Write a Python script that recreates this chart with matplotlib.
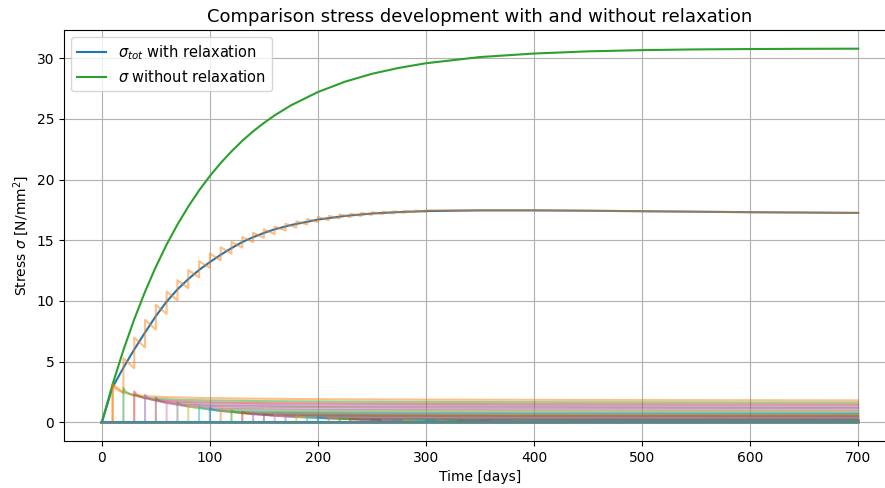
import numpy as np
import matplotlib
matplotlib.use('Agg')
from matplotlib import pyplot as plt

# smooth curves
curve_days = [0, 10, 20, 30, 40, 50, 60, 70, 80, 90, 100, 110, 120, 130, 140, 150,
              160, 175, 200, 225, 250, 275, 300, 350, 400, 450, 500, 550, 600, 650, 700]
sigma_no_relax = [0, 3.14, 5.96, 8.49, 10.76, 12.81, 14.65, 16.29, 17.77, 19.10, 20.29,
                  21.36, 22.32, 23.19, 23.97, 24.66, 25.29, 26.11, 27.21, 28.06, 28.71,
                  29.20, 29.58, 30.09, 30.38, 30.56, 30.66, 30.72, 30.75, 30.77, 30.78]
sigma_tot = [0, 2.9, 4.5, 6.0, 7.4, 8.75, 9.95, 10.95, 11.8, 12.55, 13.2,
             13.8, 14.35, 14.85, 15.25, 15.6, 15.9, 16.25, 16.7, 17.0, 17.2,
             17.32, 17.4, 17.46, 17.46, 17.43, 17.39, 17.35, 17.31, 17.28, 17.25]

# sawtooth (stress just before / after each load step)
saw_days = [10, 20, 30, 40, 50, 60, 70, 80, 90, 100, 110, 120, 130, 140, 150,
            160, 170, 180, 190, 200, 210, 220, 230, 240, 250, 260, 270, 280, 290, 300]
saw_low = [0.0, 2.45, 4.46, 6.17, 7.64, 8.93, 10.06, 11.06, 11.94, 12.72, 13.35, 13.9,
           14.4, 14.85, 15.2, 15.5, 15.8, 16.05, 16.3, 16.5, 16.65, 16.8, 16.9, 17.0,
           17.08, 17.15, 17.2, 17.25, 17.3, 17.33]
saw_high = [3.14, 5.27, 6.99, 8.44, 9.68, 10.76, 11.71, 12.54, 13.27, 13.91, 14.42, 14.86,
            15.26, 15.62, 15.89, 16.12, 16.36, 16.55, 16.75, 16.91, 17.01, 17.13, 17.19,
            17.26, 17.32, 17.36, 17.39, 17.42, 17.45, 17.47]

# single stress increments and their relaxation
load_days = list(range(0, 701, 10))
increments = [0.0,
              3.14, 2.82, 2.53, 2.27, 2.04, 1.83, 1.65, 1.48, 1.33, 1.19,
              1.07, 0.96, 0.86, 0.77, 0.69, 0.62, 0.56, 0.50, 0.45, 0.41,
              0.36, 0.33, 0.29, 0.26, 0.24, 0.21, 0.19, 0.17, 0.15, 0.14,
              0.12, 0.11, 0.10, 0.09, 0.08, 0.07, 0.065, 0.059, 0.053, 0.047,
              0.042, 0.038, 0.034, 0.031, 0.027, 0.025, 0.022, 0.020, 0.018, 0.016,
              0.014, 0.013, 0.012, 0.010, 0.009, 0.008, 0.007, 0.006, 0.006, 0.005,
              0.005, 0.004, 0.004, 0.003, 0.003, 0.003, 0.002, 0.002, 0.002, 0.002]
relax_age = [0, 2, 5, 10, 20, 30, 50, 80, 130, 200, 300, 450, 700]
relax_frac = [1.0, 0.9, 0.84, 0.78, 0.72, 0.69, 0.66, 0.64, 0.62, 0.605, 0.595, 0.585, 0.575]
day_end = 700

fig = plt.figure(figsize=(8.85, 4.88), dpi=100)
ax = fig.add_axes([64/885, 47/488, 832/885, 411/488])

l_tot, = ax.plot(curve_days, sigma_tot, color='C0')

saw_x, saw_y = [0], [0]
for t, lo, hi in zip(saw_days, saw_low, saw_high):
    saw_x += [t, t]
    saw_y += [lo, hi]
for t, v in zip(curve_days, sigma_tot):
    if t > saw_days[-1]:
        saw_x.append(t)
        saw_y.append(v)
ax.plot(saw_x, saw_y, color='C1', alpha=0.5)

l_no, = ax.plot(curve_days, sigma_no_relax, color='C2')

ages = np.array(relax_age)
fracs = np.array(relax_frac)
for i, (t0, d) in enumerate(zip(load_days, increments)):
    keep = t0 + ages <= day_end
    x = np.r_[0, t0, t0 + ages[keep], day_end]
    y = np.r_[0, 0, d * fracs[keep], d * np.interp(day_end - t0, ages, fracs)]
    ax.plot(x, y, color=f'C{i % 10}', alpha=0.5)

ax.legend([l_tot, l_no], [r'$\sigma_{tot}$ with relaxation', r'$\sigma$ without relaxation'],
          loc='upper left', fontsize=10.5)
ax.set_title('Comparison stress development with and without relaxation', fontsize=13)
ax.set_xlabel('Time [days]')
ax.set_ylabel(r'Stress $\sigma$ [N/mm$^2$]')
ax.grid(True)

fig.savefig('out.png', dpi=100)
